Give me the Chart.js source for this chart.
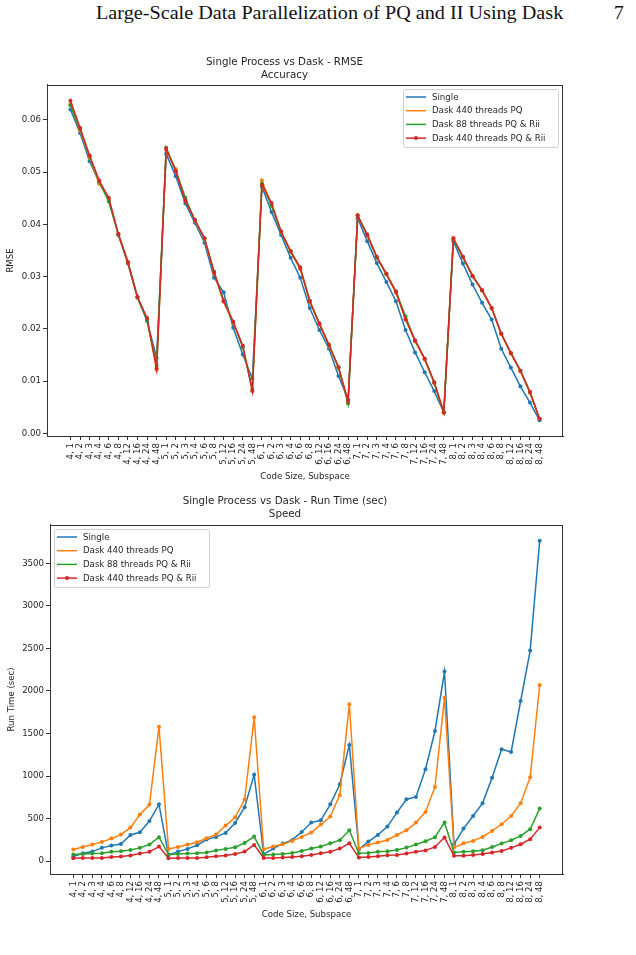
<!DOCTYPE html>
<html>
<head>
<meta charset="utf-8">
<script src="https://cdn.jsdelivr.net/npm/chart.js@4"></script>
<style>
  html, body { margin: 0; padding: 0; background: #fff; }
  body { width: 636px; height: 955px; position: relative; overflow: hidden; }
  #header { position: absolute; left: 96px; top: 2px; font-family: "Liberation Serif", serif; font-size: 19.5px; color: #111; white-space: nowrap; transform-origin: 0 0; }
  #pageNo { position: absolute; left: 614px; top: 2px; font-family: "Liberation Serif", serif; font-size: 19.5px; color: #111; }
  .box { position: absolute; left: 0; width: 636px; }
</style>
</head>
<body>
<div id="header">Large-Scale Data Parallelization of PQ and II Using Dask</div>
<div id="pageNo">7</div>
<div class="box" style="top:48px;height:434px"><canvas id="rmseChart"></canvas></div>
<div class="box" style="top:488px;height:432px"><canvas id="timeChart"></canvas></div>
<script>
// categories: code size, subspace
const codeSizes = [4, 5, 6, 7, 8];
const subspaces = [1, 2, 3, 4, 6, 8, 12, 16, 24, 48];
const categories = [];
codeSizes.forEach(c => subspaces.forEach(s => categories.push(c + ', ' + s)));

const seriesNames = ['Single', 'Dask 440 threads PQ', 'Dask 88 threads PQ & Rii', 'Dask 440 threads PQ & Rii'];
const seriesColors = ['#1f77b4', '#ff7f0e', '#2ca02c', '#d62728'];

// RMSE (accuracy)
const rmseSingle = [
  0.0620, 0.0575, 0.0521, 0.0480, 0.0447, 0.0380, 0.0325, 0.0260, 0.0215, 0.0145,
  0.0535, 0.0492, 0.0440, 0.0403, 0.0365, 0.0298, 0.0270, 0.0202, 0.0151, 0.0105,
  0.0472, 0.0424, 0.0380, 0.0336, 0.0298, 0.0240, 0.0198, 0.0162, 0.0110, 0.0065,
  0.0412, 0.0368, 0.0326, 0.0290, 0.0253, 0.0198, 0.0155, 0.0117, 0.0081, 0.0040,
  0.0368, 0.0325, 0.0285, 0.0250, 0.0218, 0.0162, 0.0126, 0.0090, 0.0059, 0.0025
];
const rmseDaskPQ = [
  0.0630, 0.0580, 0.0528, 0.0478, 0.0449, 0.0381, 0.0327, 0.0261, 0.0218, 0.0122,
  0.0543, 0.0506, 0.0448, 0.0407, 0.0372, 0.0307, 0.0252, 0.0212, 0.0166, 0.0082,
  0.0484, 0.0438, 0.0385, 0.0347, 0.0314, 0.0252, 0.0209, 0.0168, 0.0125, 0.0058,
  0.0418, 0.0379, 0.0336, 0.0304, 0.0269, 0.0220, 0.0176, 0.0142, 0.0096, 0.0040,
  0.0374, 0.0337, 0.0301, 0.0273, 0.0239, 0.0190, 0.0153, 0.0119, 0.0078, 0.0028
];
const rmseDask88Rii = [
  0.0628, 0.0582, 0.0530, 0.0482, 0.0444, 0.0381, 0.0327, 0.0260, 0.0217, 0.0130,
  0.0547, 0.0503, 0.0451, 0.0408, 0.0373, 0.0310, 0.0255, 0.0214, 0.0165, 0.0085,
  0.0478, 0.0436, 0.0386, 0.0348, 0.0318, 0.0254, 0.0211, 0.0170, 0.0126, 0.0057,
  0.0417, 0.0381, 0.0337, 0.0305, 0.0272, 0.0224, 0.0178, 0.0143, 0.0097, 0.0040,
  0.0372, 0.0337, 0.0301, 0.0274, 0.0240, 0.0191, 0.0154, 0.0120, 0.0079, 0.0028
];
const rmseDask440Rii = [
  0.0637, 0.0585, 0.0532, 0.0484, 0.0451, 0.0382, 0.0328, 0.0261, 0.0221, 0.0124,
  0.0545, 0.0502, 0.0445, 0.0409, 0.0374, 0.0308, 0.0253, 0.0213, 0.0168, 0.0081,
  0.0476, 0.0441, 0.0387, 0.0349, 0.0317, 0.0253, 0.0210, 0.0169, 0.0127, 0.0062,
  0.0417, 0.0380, 0.0338, 0.0306, 0.0271, 0.0218, 0.0178, 0.0143, 0.0098, 0.0040,
  0.0373, 0.0338, 0.0302, 0.0274, 0.0240, 0.0191, 0.0154, 0.0120, 0.0079, 0.0028
];
const rmseTicks = [0, 0.01, 0.02, 0.03, 0.04, 0.05, 0.06];

// run time in seconds (speed)
const timeSingle = [
  55, 94, 113, 157, 184, 203, 309, 340, 473, 669,
  74, 113, 145, 188, 254, 286, 333, 450, 634, 1017,
  82, 149, 207, 250, 344, 454, 481, 669, 904, 1366,
  141, 231, 309, 407, 571, 728, 755, 1080, 1530, 2228,
  200, 383, 532, 681, 982, 1315, 1283, 1882, 2474, 3765
];
const timeDaskPQ = [
  137, 168, 196, 227, 266, 313, 395, 548, 665, 1581,
  145, 168, 196, 223, 270, 313, 419, 516, 724, 1690,
  141, 172, 200, 239, 286, 337, 430, 524, 779, 1843,
  149, 192, 219, 250, 309, 364, 454, 579, 873, 1921,
  160, 211, 239, 286, 356, 434, 532, 681, 986, 2070
];
const timeDask88Rii = [
  78, 86, 90, 94, 110, 117, 133, 157, 196, 282,
  78, 86, 90, 94, 102, 125, 145, 164, 215, 290,
  74, 78, 86, 98, 121, 149, 172, 211, 247, 364,
  94, 98, 110, 117, 133, 160, 196, 235, 282, 454,
  102, 110, 117, 129, 168, 207, 247, 297, 376, 618
];
const timeDask440Rii = [
  35, 39, 39, 39, 51, 55, 67, 90, 110, 172,
  35, 39, 39, 39, 47, 59, 67, 86, 113, 192,
  39, 39, 43, 51, 59, 74, 94, 110, 149, 211,
  43, 51, 59, 70, 74, 90, 110, 125, 168, 278,
  63, 63, 74, 86, 102, 121, 157, 200, 258, 395
];
const timeTicks = [0, 500, 1000, 1500, 2000, 2500, 3000, 3500];

// fit the page header to its width in the reference
const header = document.getElementById('header');
header.style.transform = 'scaleX(' + (467 / header.offsetWidth) + ')';

const FONT = 'DejaVu Sans';
const TEXT = '#262626';
const AXIS = '#333';

// box round the plot area (matplotlib spines)
const framePlugin = {
  id: 'frame',
  afterDatasetsDraw(chart) {
    const a = chart.chartArea, ctx = chart.ctx;
    ctx.save();
    ctx.strokeStyle = AXIS;
    ctx.lineWidth = 1;
    ctx.strokeRect(Math.round(a.left) + 0.5, Math.round(a.top) + 0.5,
      Math.round(a.right - a.left) - 1, Math.round(a.bottom - a.top));
    ctx.restore();
  }
};

// matplotlib style legend box
const boxLegend = {
  id: 'boxLegend',
  afterDraw(chart, args, opts) {
    const ctx = chart.ctx;
    const x = opts.x, y = opts.y, w = opts.w, h = opts.h;
    ctx.save();
    ctx.fillStyle = 'rgba(255,255,255,0.85)';
    ctx.strokeStyle = '#d0d0d0';
    ctx.lineWidth = 1;
    ctx.beginPath();
    ctx.roundRect(x + 0.5, y + 0.5, w, h, 2);
    ctx.fill();
    ctx.stroke();
    ctx.font = '8.6px "' + FONT + '"';
    ctx.textBaseline = 'middle';
    chart.data.datasets.forEach((ds, i) => {
      const yy = y + 8 + i * 13.7;
      ctx.strokeStyle = ds.borderColor;
      ctx.lineWidth = 1.5;
      ctx.beginPath();
      ctx.moveTo(x + 3, yy);
      ctx.lineTo(x + 23, yy);
      ctx.stroke();
      if (ds.legendDot) {
        ctx.fillStyle = ds.borderColor;
        ctx.beginPath();
        ctx.arc(x + 13, yy, 2, 0, Math.PI * 2);
        ctx.fill();
      }
      ctx.fillStyle = TEXT;
      ctx.fillText(ds.label, x + 29, yy + 0.5);
    });
    ctx.restore();
  }
};

function makeDatasets(seriesList) {
  return seriesList.map((values, i) => ({
    label: seriesNames[i],
    data: values.map((v, k) => ({ x: k, y: v })),
    borderColor: seriesColors[i],
    backgroundColor: seriesColors[i],
    borderWidth: 1.5,
    pointRadius: 2,
    pointBorderWidth: 0,
    pointHoverRadius: 2,
    tension: 0,
    order: seriesList.length - 1 - i, // last series drawn on top, as in matplotlib
    legendDot: i === 3
  }));
}

function makeChart(canvasId, opts) {
  const ctx = document.getElementById(canvasId).getContext('2d');
  return new Chart(ctx, {
    type: 'line',
    data: { datasets: makeDatasets(opts.series) },
    options: {
      responsive: true,
      maintainAspectRatio: false,
      animation: false,
      events: [],
      layout: { padding: { left: opts.padLeft, right: 73, top: 0, bottom: 0 } },
      plugins: {
        legend: { display: false },
        tooltip: { enabled: false },
        title: {
          display: true,
          text: opts.title,
          color: TEXT,
          font: { family: FONT, size: 10.3, weight: 'normal', lineHeight: 1.26 },
          padding: { top: opts.titleTop, bottom: opts.titleBottom }
        },
        boxLegend: opts.legend
      },
      scales: {
        x: {
          type: 'linear',
          min: -2.45,
          max: categories.length - 1 + 2.45,
          afterBuildTicks: s => { s.ticks = categories.map((c, i) => ({ value: i })); },
          afterFit: s => { s.height = 46; },
          ticks: {
            autoSkip: false,
            maxRotation: 90,
            minRotation: 90,
            padding: 3,
            color: TEXT,
            font: { family: FONT, size: 8.6 },
            callback: v => categories[v]
          },
          grid: { drawOnChartArea: false, drawTicks: true, tickLength: 4, color: AXIS },
          border: { display: true, color: AXIS },
          title: { display: true, text: 'Code Size, Subspace', color: TEXT, font: { family: FONT, size: 8.6 }, padding: 0 }
        },
        y: {
          type: 'linear',
          min: opts.yMin,
          max: opts.yMax,
          afterBuildTicks: s => { s.ticks = opts.yTicks.map(v => ({ value: v })); },
          afterFit: s => { s.width = opts.yWidth; },
          ticks: {
            padding: 2,
            color: TEXT,
            font: { family: FONT, size: 8.6 },
            callback: opts.yFormat
          },
          grid: { drawOnChartArea: false, drawTicks: true, tickLength: 4, color: AXIS },
          border: { display: true, color: AXIS },
          title: { display: true, text: opts.yTitle, color: TEXT, font: { family: FONT, size: 8.6 }, padding: 0 }
        }
      }
    },
    plugins: [framePlugin, boxLegend]
  });
}

makeChart('rmseChart', {
  series: [rmseSingle, rmseDaskPQ, rmseDask88Rii, rmseDask440Rii],
  title: ['Single Process vs Dask - RMSE', 'Accuracy'],
  titleTop: 7.5,
  titleBottom: 3.5,
  padLeft: 6,
  yWidth: 41,
  yMin: -0.0005,
  yMax: 0.0667,
  yTicks: rmseTicks,
  yFormat: v => v.toFixed(2),
  yTitle: 'RMSE',
  legend: { x: 403, y: 41, w: 155, h: 58 }
});

makeChart('timeChart', {
  series: [timeSingle, timeDaskPQ, timeDask88Rii, timeDask440Rii],
  title: ['Single Process vs Dask - Run Time (sec)', 'Speed'],
  titleTop: 7,
  titleBottom: 4,
  padLeft: 7,
  yWidth: 43,
  yMin: -150,
  yMax: 3950,
  yTicks: timeTicks,
  yFormat: v => String(v),
  yTitle: 'Run Time (sec)',
  legend: { x: 54, y: 41, w: 155, h: 58 }
});
</script>
</body>
</html>
